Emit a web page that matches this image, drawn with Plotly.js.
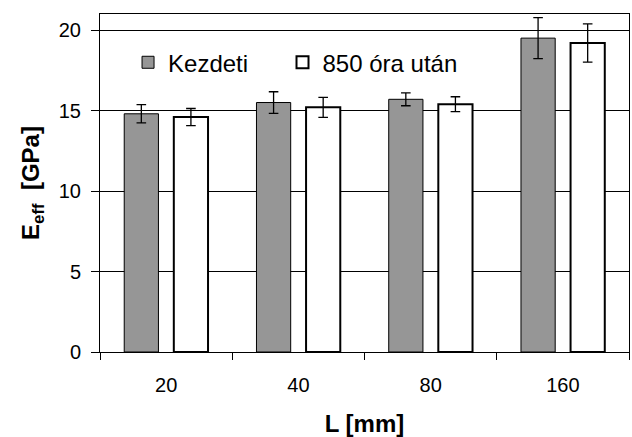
<!DOCTYPE html>
<html>
<head>
<meta charset="utf-8">
<script src="https://cdn.plot.ly/plotly-3.0.1.min.js"></script>
<style>html,body{margin:0;padding:0;background:#fff;}#chart{width:632px;height:437px;}</style>
</head>
<body>
<div id="chart"></div>
<script>
var categories = ['20', '40', '80', '160'];
var kezdetiValues = [14.8, 15.5, 15.7, 19.5];
var kezdetiErrors = [0.57, 0.67, 0.4, 1.27];
var utanValues = [14.6, 15.2, 15.4, 19.2];
var utanErrors = [0.53, 0.62, 0.46, 1.19];
var seriesNames = ['Kezdeti', '850 óra után'];

var FONT = 'Liberation Sans, Arial, sans-serif';

var traces = [
  {
    type: 'bar', name: seriesNames[0], x: categories, y: kezdetiValues, legend: 'legend',
    marker: {color: '#969696', line: {color: '#000000', width: 1}},
    error_y: {type: 'data', array: kezdetiErrors, visible: true, color: '#000000', thickness: 1.3, width: 4.8}
  },
  {
    type: 'bar', name: seriesNames[1], x: categories, y: utanValues, legend: 'legend2',
    marker: {color: '#ffffff', line: {color: '#000000', width: 2}},
    error_y: {type: 'data', array: utanErrors, visible: true, color: '#000000', thickness: 1.3, width: 4.8}
  }
];

var legendFont = {family: FONT, size: 24, color: '#000000'};

var layout = {
  width: 632, height: 437,
  margin: {l: 100, r: 3, t: 14, b: 85, pad: 0},
  paper_bgcolor: '#ffffff', plot_bgcolor: '#ffffff',
  font: {family: FONT, color: '#000000', size: 20},
  barmode: 'group', bargap: 0.25, bargroupgap: 0.31,
  showlegend: true,
  legend: {
    orientation: 'h', x: 0.053, xanchor: 'left', y: 0.856, yanchor: 'middle',
    bgcolor: 'rgba(0,0,0,0)', borderwidth: 0, font: legendFont
  },
  legend2: {
    orientation: 'h', x: 0.345, xanchor: 'left', y: 0.856, yanchor: 'middle',
    bgcolor: 'rgba(0,0,0,0)', borderwidth: 0, font: legendFont
  },
  xaxis: {
    type: 'category', showline: true, linecolor: '#000000', linewidth: 1, mirror: true,
    ticks: 'outside', tickson: 'boundaries', ticklen: 7, tickcolor: '#000000', tickwidth: 1,
    showgrid: false, zeroline: false,
    tickfont: {family: FONT, size: 20, color: '#000000'},
    ticklabelstandoff: 15,
    title: {text: '<b>L [mm]</b>', font: {family: FONT, size: 24, color: '#000000'}, standoff: 21}
  },
  yaxis: {
    range: [0, 21], dtick: 5, tick0: 0, showline: true, linecolor: '#000000', linewidth: 1, mirror: true,
    ticks: 'outside', ticklen: 8, tickcolor: '#000000', tickwidth: 1,
    showgrid: true, gridcolor: '#000000', gridwidth: 1, zeroline: false,
    tickfont: {family: FONT, size: 20, color: '#000000'},
    ticklabelstandoff: 6,
    title: {text: '<b>E<sub>eff</sub>  [GPa]</b>', font: {family: FONT, size: 24, color: '#000000'}, standoff: 12}
  }
};

Plotly.newPlot('chart', traces, layout, {displayModeBar: false, staticPlot: true});
</script>
</body>
</html>
